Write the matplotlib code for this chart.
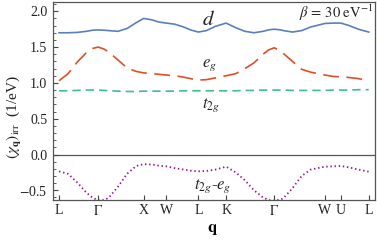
import matplotlib
matplotlib.use("Agg")
import matplotlib.pyplot as plt
from matplotlib.ticker import MultipleLocator
import numpy as np

plt.rcParams['font.family'] = ['Liberation Serif', 'DejaVu Serif']
plt.rcParams['mathtext.fontset'] = 'stix'

# high-symmetry points along the path (cumulative |k| in 2pi/a)
tick_pos = [0.0, 0.866, 1.866, 2.366, 3.073, 3.685, 4.746, 5.864, 6.218, 6.830]
tick_labels = ['L', r'$\Gamma$', 'X', 'W', 'L', 'K', r'$\Gamma$', 'W', 'U', 'L']

# sample positions along the path
q = [0.0, 0.2, 0.4, 0.6, 0.73, 0.866, 1.0, 1.1, 1.3, 1.5, 1.7, 1.866, 2.05, 2.2,
     2.366, 2.55, 2.75, 2.9, 3.073, 3.25, 3.45, 3.685, 3.9, 4.1, 4.3, 4.5, 4.62,
     4.746, 4.88, 4.95, 5.15, 5.35, 5.55, 5.864, 6.05, 6.218, 6.4, 6.6, 6.83]

chi_d = [1.70, 1.70, 1.705, 1.72, 1.735, 1.74, 1.735, 1.73, 1.72, 1.76, 1.84, 1.90,
         1.88, 1.85, 1.835, 1.82, 1.78, 1.74, 1.71, 1.73, 1.79, 1.835, 1.77, 1.72,
         1.70, 1.72, 1.74, 1.75, 1.74, 1.73, 1.71, 1.73, 1.78, 1.83, 1.835, 1.835,
         1.80, 1.75, 1.71]

chi_eg = [1.03, 1.13, 1.29, 1.42, 1.48, 1.50, 1.47, 1.43, 1.32, 1.21, 1.16, 1.14,
          1.13, 1.12, 1.11, 1.10, 1.08, 1.06, 1.04, 1.045, 1.07, 1.10, 1.13, 1.20,
          1.28, 1.40, 1.46, 1.49, 1.45, 1.41, 1.30, 1.19, 1.15, 1.11, 1.09, 1.085,
          1.075, 1.06, 1.03]

chi_t2g = [0.89, 0.89, 0.895, 0.90, 0.90, 0.90, 0.895, 0.89, 0.885, 0.88, 0.88, 0.885,
           0.885, 0.885, 0.885, 0.885, 0.89, 0.89, 0.89, 0.89, 0.89, 0.89, 0.89, 0.895,
           0.895, 0.90, 0.90, 0.90, 0.90, 0.90, 0.895, 0.895, 0.895, 0.895, 0.90, 0.90,
           0.90, 0.905, 0.905]

chi_diff = [-0.235, -0.27, -0.39, -0.53, -0.60, -0.64, -0.635, -0.60, -0.45, -0.27,
            -0.16, -0.135, -0.14, -0.155, -0.165, -0.19, -0.21, -0.225, -0.235, -0.23,
            -0.21, -0.17, -0.25, -0.36, -0.50, -0.60, -0.635, -0.645, -0.63, -0.61,
            -0.47, -0.30, -0.21, -0.17, -0.165, -0.16, -0.18, -0.21, -0.24]

fig = plt.figure(figsize=(3.77, 2.46), dpi=100)
ax = fig.add_axes([0.1398, 0.187, 0.855, 0.805])

ax.axhline(0.0, color='#555555', lw=0.9, zorder=1)

ax.plot(q, chi_d, color='#5B7FBE', lw=1.2)
ax.plot(q, chi_eg, color='#DD4F28', lw=1.2, dashes=(9.5, 4.5))
ax.plot(q, chi_t2g, color='#3FBF8A', lw=1.2, dashes=(5, 3))
ax.plot(q, chi_diff, color='#96189A', lw=1.3, linestyle=(0, (0.8, 1.5)))

ax.set_xlim(-0.14, 6.97)
ax.set_ylim(-0.635, 2.13)

ax.set_xticks(tick_pos)
ax.set_xticklabels(tick_labels)
ax.yaxis.set_major_locator(MultipleLocator(0.5))
ax.yaxis.set_minor_locator(MultipleLocator(0.1))
ax.set_yticks([2.0, 1.5, 1.0, 0.5, 0.0, -0.5])
ax.set_yticklabels(['2.0', '1.5', '1.0', '0.5', '0.0', r'$-$0.5'])

ax.tick_params(axis='both', which='both', direction='in', colors='#444444',
               labelcolor='#222222', labelsize=10)
ax.tick_params(axis='y', which='major', length=3.5, pad=4)
ax.tick_params(axis='y', which='minor', length=2)
ax.tick_params(axis='x', which='major', length=3.5, pad=3)

for s in ax.spines.values():
    s.set_color('#555555')
    s.set_linewidth(0.9)

ax.set_xlabel(r'$\mathbf{q}$', fontsize=12)
ax.xaxis.set_label_coords(0.497, -0.105)
ax.set_ylabel(r'$(\chi_{\mathbf{q}})_{\mathrm{irr}}$  (1/eV)', fontsize=11, color='#222222')
ax.yaxis.set_label_coords(-0.088, 0.42)

ax.text(3.29, 1.87, r'$d$', fontsize=15, ha='center', va='center', color='#222222')
ax.text(3.31, 1.25, r'$e_g$', fontsize=12, ha='center', va='center', color='#222222')
ax.text(3.36, 0.69, r'$t_{2g}$', fontsize=12, ha='center', va='center', color='#222222')
ax.text(3.38, -0.44, r'$t_{2g}$-$e_g$', fontsize=12, ha='center', va='center', color='#222222')
ax.text(6.93, 1.98, r'$\beta\,=\,30\ \mathrm{eV}^{-1}$', fontsize=10.5, ha='right',
        va='center', color='#222222')

fig.savefig('out.png', dpi=100)
